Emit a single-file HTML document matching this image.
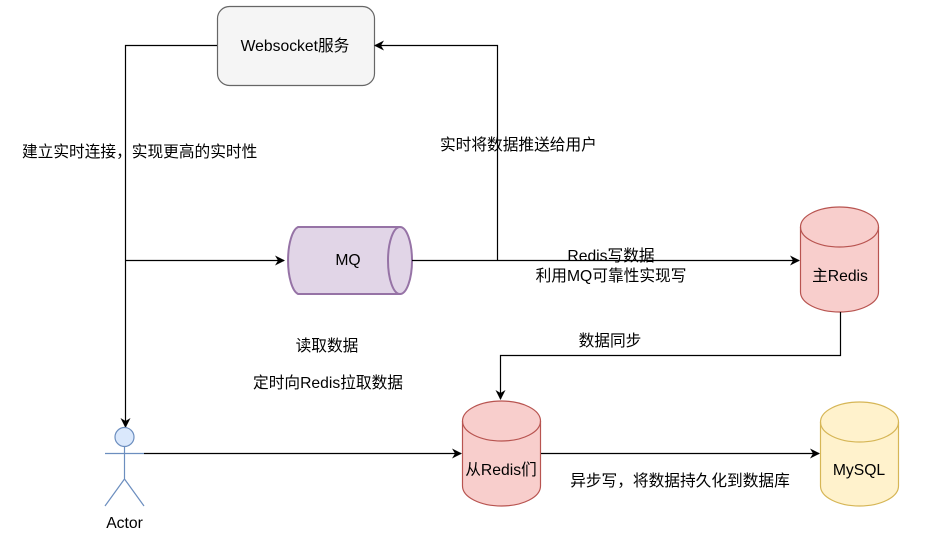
<!DOCTYPE html>
<html><head><meta charset="utf-8"><style>
html,body{margin:0;padding:0;background:#fff;}
svg{display:block;}
text{font-family:"Liberation Sans","Noto Sans CJK SC",sans-serif;font-size:15.7px;fill:#000;}
</style></head><body>
<svg width="934" height="546" viewBox="0 0 934 546" xmlns="http://www.w3.org/2000/svg">
<defs>
<marker id="a" markerWidth="10" markerHeight="10" refX="9" refY="5" orient="auto" markerUnits="userSpaceOnUse">
<path d="M0,0 L10,5 L0,10 L3,5 Z" fill="#000"/>
</marker>
</defs>
<rect x="217.5" y="6.5" width="157" height="79" rx="12" fill="#f5f5f5" stroke="#666" stroke-width="1.2"/>
<text x="295" y="51" text-anchor="middle" fill="#333">Websocket服务</text>
<path d="M217,45.5 H125.5 V427" fill="none" stroke="#000" stroke-width="1.2" marker-end="url(#a)"/>
<path d="M125.5,260.5 H284" fill="none" stroke="#000" stroke-width="1.2" marker-end="url(#a)"/>
<path d="M298,227 H400 A12,34 0 0 1 400,294 H298 A12,34 0 0 1 298,227 Z" fill="#e1d5e7" stroke="#9673a6" stroke-width="2"/>
<ellipse cx="400" cy="260.5" rx="12" ry="33.5" fill="#e1d5e7" stroke="#9673a6" stroke-width="2"/>
<text x="348" y="265" text-anchor="middle">MQ</text>
<path d="M412,260.5 H799" fill="none" stroke="#000" stroke-width="1.2" marker-end="url(#a)"/>
<path d="M497.5,260.5 V45.5 H375" fill="none" stroke="#000" stroke-width="1.2" marker-end="url(#a)"/>
<path d="M800.5,227 A39,20 0 0 1 878.5,227 V292 A39,20 0 0 1 800.5,292 Z" fill="#f8cecc" stroke="#b85450" stroke-width="1.2"/>
<path d="M800.5,227 A39,20 0 0 0 878.5,227" fill="none" stroke="#b85450" stroke-width="1.2"/>
<text x="840" y="281" text-anchor="middle">主Redis</text>
<path d="M840.5,312 V355.5 H500.5 V399" fill="none" stroke="#000" stroke-width="1.2" marker-end="url(#a)"/>
<path d="M462.5,421 A39,20 0 0 1 540.5,421 V486 A39,20 0 0 1 462.5,486 Z" fill="#f8cecc" stroke="#b85450" stroke-width="1.2"/>
<path d="M462.5,421 A39,20 0 0 0 540.5,421" fill="none" stroke="#b85450" stroke-width="1.2"/>
<text x="501" y="475" text-anchor="middle">从Redis们</text>
<path d="M820.5,422 A39,20 0 0 1 898.5,422 V486 A39,20 0 0 1 820.5,486 Z" fill="#fff2cc" stroke="#d6b656" stroke-width="1.2"/>
<path d="M820.5,422 A39,20 0 0 0 898.5,422" fill="none" stroke="#d6b656" stroke-width="1.2"/>
<text x="859" y="475" text-anchor="middle">MySQL</text>
<circle cx="124.5" cy="437" r="9.5" fill="#dae8fc" stroke="#6c8ebf" stroke-width="1.2"/>
<path d="M124.5,446.5 V479 M105,453.5 H144 M124.5,479 L105,506 M124.5,479 L144,506" fill="none" stroke="#6c8ebf" stroke-width="1.2"/>
<text x="124.5" y="528" text-anchor="middle">Actor</text>
<path d="M144,453.5 H461" fill="none" stroke="#000" stroke-width="1.2" marker-end="url(#a)"/>
<path d="M541,453.5 H819" fill="none" stroke="#000" stroke-width="1.2" marker-end="url(#a)"/>
<text x="22" y="157">建立实时连接，实现更高的实时性</text>
<text x="440" y="150">实时将数据推送给用户</text>
<text x="611" y="261" text-anchor="middle">Redis写数据</text>
<text x="611" y="281" text-anchor="middle">利用MQ可靠性实现写</text>
<text x="610" y="346" text-anchor="middle">数据同步</text>
<text x="327" y="351" text-anchor="middle">读取数据</text>
<text x="328" y="388" text-anchor="middle">定时向Redis拉取数据</text>
<text x="680" y="486" text-anchor="middle">异步写，将数据持久化到数据库</text>
</svg>
</body></html>
